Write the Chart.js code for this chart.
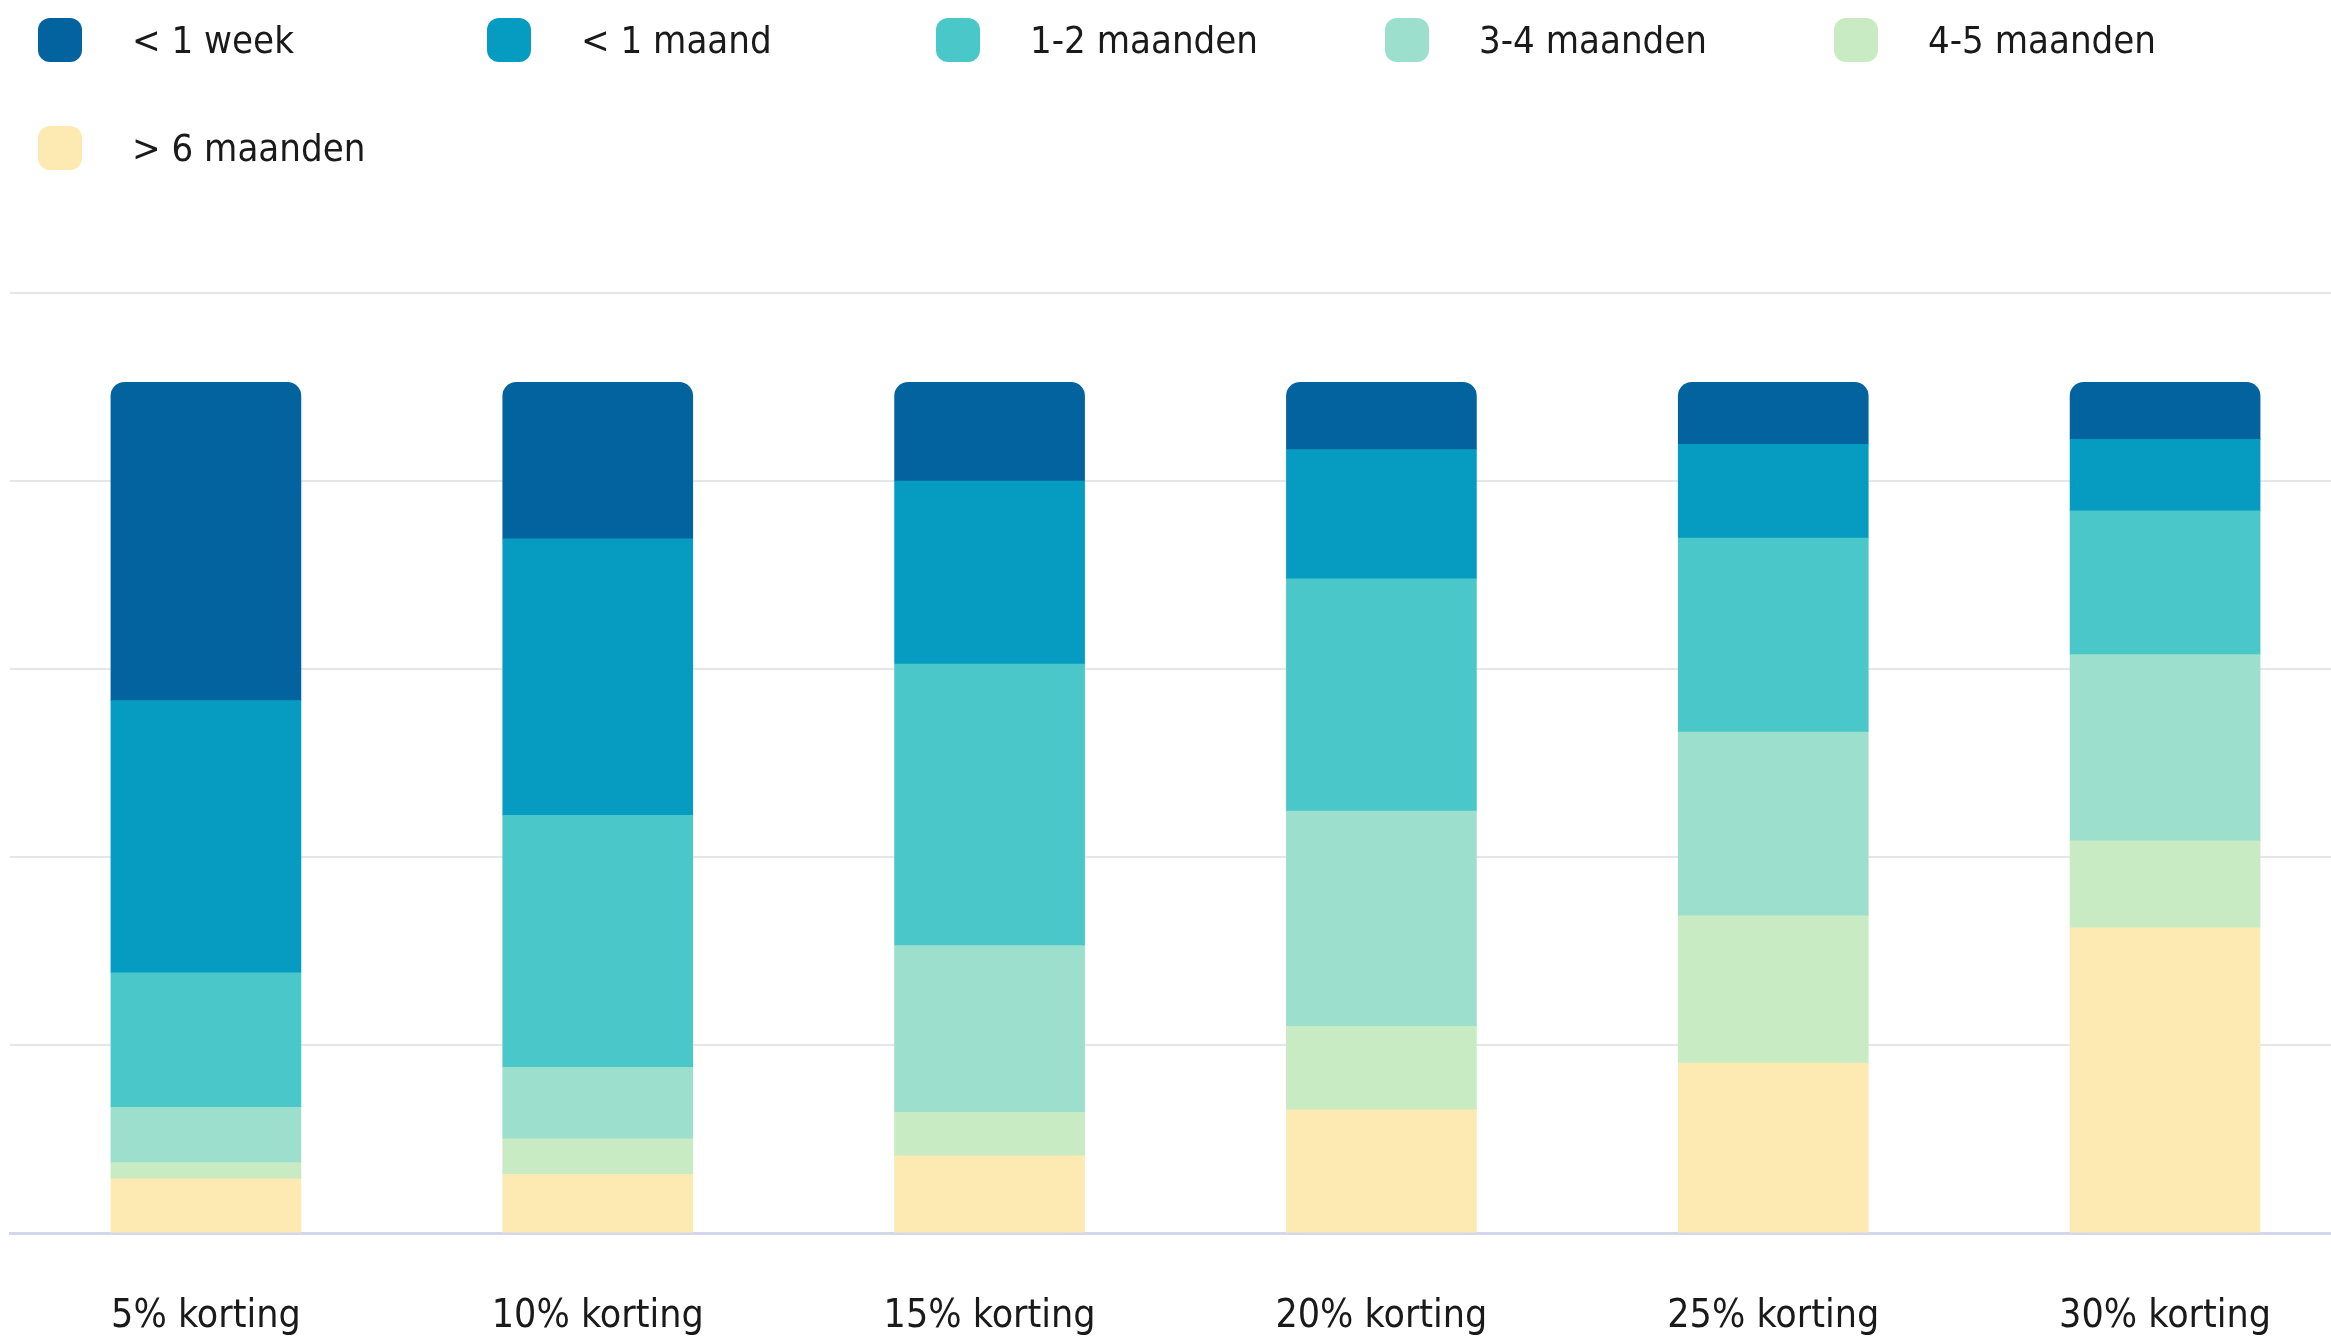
<!DOCTYPE html>
<html>
<head>
<meta charset="utf-8">
<script src="https://cdn.jsdelivr.net/npm/chart.js@4"></script>
<style>
  html, body { margin: 0; padding: 0; background: #fff; overflow: hidden; width: 2331px; height: 1340px; }
  #wrap { position: relative; width: 2331px; height: 1340px; overflow: hidden; }
  #chart { position: absolute; left: 0; top: 0; }
  .legend {
    position: absolute; left: 38px; top: 18px;
    display: grid; grid-template-columns: repeat(5, 449px); row-gap: 64px;
    font-family: "DejaVu Sans Condensed", "DejaVu Sans", sans-serif; font-size: 38px; color: #1a1a1a;
  }
  .legend .item { display: flex; align-items: center; height: 44px; }
  .legend .box { width: 44px; height: 44px; border-radius: 12px; margin-right: 50px; flex: none; }
</style>
</head>
<body>
<div id="wrap">
  <canvas id="chart" width="2370" height="1400"></canvas>
  <div class="legend" id="legend"></div>
</div>
<script>
// categorieen en series (percentages per kortingsniveau)
const labels = ['5% korting', '10% korting', '15% korting', '20% korting', '25% korting', '30% korting'];

const week   = [37.4, 18.4, 11.6, 7.9, 7.3, 6.7];
const maand  = [32.0, 32.5, 21.5, 15.2, 11.0, 8.4];
const m1_2   = [15.8, 29.6, 33.1, 27.3, 22.8, 16.9];
const m3_4   = [6.5, 8.4, 19.6, 25.3, 21.6, 21.9];
const m4_5   = [1.9, 4.2, 5.1, 9.8, 17.3, 10.2];
const m6     = [6.4, 6.9, 9.1, 14.5, 20.0, 35.9];

const seriesNames = ['< 1 week', '< 1 maand', '1-2 maanden', '3-4 maanden', '4-5 maanden', '> 6 maanden'];
const seriesData = [week, maand, m1_2, m3_4, m4_5, m6];
const colors = ['#03639E', '#069CC1', '#4AC7C9', '#9DDFCD', '#C8EBC3', '#FDEAB2'];

// LEGEND (html)
const legend = document.getElementById('legend');
seriesNames.forEach((name, i) => {
    const item = document.createElement('div');
    item.className = 'item';
    const box = document.createElement('span');
    box.className = 'box';
    box.style.background = colors[i];
    const txt = document.createElement('span');
    txt.textContent = name;
    item.appendChild(box);
    item.appendChild(txt);
    legend.appendChild(item);
});

// datasets: onderste segment eerst
const datasets = seriesNames.map((name, i) => ({
    label: name,
    data: seriesData[i],
    backgroundColor: colors[i],
    borderRadius: i === 0 ? { topLeft: 14, topRight: 14, bottomLeft: 0, bottomRight: 0 } : 0,
    borderSkipped: false,
    barThickness: 190
})).reverse();

const ctx = document.getElementById('chart');

new Chart(ctx, {
    type: 'bar',
    data: { labels, datasets },
    options: {
        responsive: false,
        animation: false,
        layout: { padding: { top: 293, left: 10, right: 9, bottom: 0 } },
        plugins: {
            legend: { display: false },
            tooltip: { enabled: false }
        },
        scales: {
            x: {
                stacked: true,
                grid: { display: false, drawTicks: false },
                border: { display: true, color: '#D4D6EA', width: 3 },
                ticks: {
                    color: '#1a1a1a',
                    padding: 60,
                    autoSkip: false,
                    maxRotation: 0,
                    font: { family: '"DejaVu Sans Condensed", "DejaVu Sans", sans-serif', size: 39 }
                }
            },
            y: {
                stacked: true,
                min: 0,
                max: 110.5,
                ticks: { display: false, stepSize: 22.1 },
                border: { display: false },
                grid: {
                    drawTicks: false,
                    color: '#E6E6EA',
                    lineWidth: 2
                }
            }
        }
    }
});
</script>
</body>
</html>
